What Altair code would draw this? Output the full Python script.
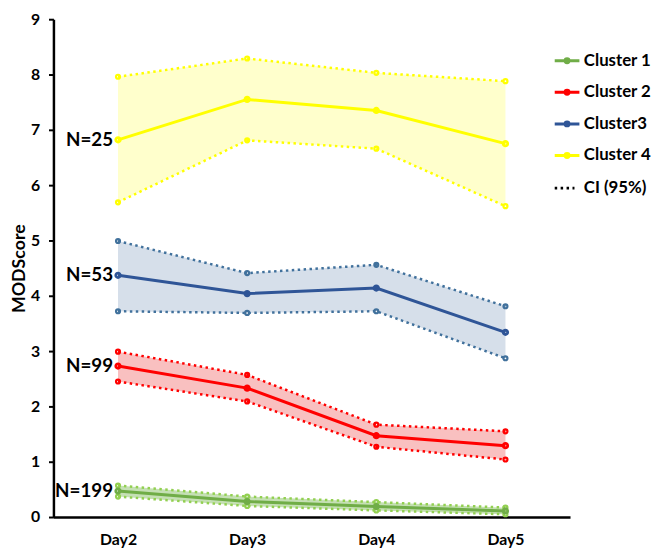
import altair as alt
import pandas as pd

days = ["Day2", "Day3", "Day4", "Day5"]
clusters = ["Cluster 1", "Cluster 2", "Cluster3", "Cluster 4"]
n_labels = ["N=199", "N=99", "N=53", "N=25"]
ci_label = "CI (95%)"

mean_c1 = [0.47, 0.28, 0.19, 0.11]
lo_c1 = [0.37, 0.20, 0.12, 0.05]
hi_c1 = [0.57, 0.37, 0.27, 0.17]

mean_c2 = [2.73, 2.33, 1.47, 1.29]
lo_c2 = [2.45, 2.09, 1.27, 1.04]
hi_c2 = [2.99, 2.57, 1.67, 1.55]

mean_c3 = [4.37, 4.04, 4.14, 3.34]
lo_c3 = [3.72, 3.69, 3.72, 2.87]
hi_c3 = [4.99, 4.41, 4.56, 3.81]

mean_c4 = [6.82, 7.55, 7.35, 6.75]
lo_c4 = [5.69, 6.81, 6.66, 5.62]
hi_c4 = [7.96, 8.29, 8.03, 7.88]

main_colors = ["#70AD47", "#FF0000", "#2F5597", "#FFFF00"]
ci_colors = ["#92D050", "#FF0000", "#41719C", "#FFFF00"]
band_colors = ["#C5E0B4", "#F9C0C0", "#D6DFEA", "#FFFFCC"]

means = [mean_c1, mean_c2, mean_c3, mean_c4]
los = [lo_c1, lo_c2, lo_c3, lo_c4]
his = [hi_c1, hi_c2, hi_c3, hi_c4]

band_keys = [c + " band" for c in clusters]
ci_keys = [c + " CI" for c in clusters]

rows, ci_rows, lab_rows = [], [], []
for ci, c in enumerate(clusters):
    for di, d in enumerate(days):
        rows.append({"cluster": c, "band": band_keys[ci], "day": d, "mean": means[ci][di],
                     "lo": los[ci][di], "hi": his[ci][di]})
        ci_rows.append({"cikey": ci_keys[ci], "day": d, "series": c + " hi",
                        "value": his[ci][di], "ci": ci_label})
        ci_rows.append({"cikey": ci_keys[ci], "day": d, "series": c + " lo",
                        "value": los[ci][di], "ci": ci_label})
    lab_rows.append({"cluster": c, "day": days[0], "mean": means[ci][0], "label": n_labels[ci]})

df = pd.DataFrame(rows)
ci_df = pd.DataFrame(ci_rows)
lab_df = pd.DataFrame(lab_rows)

FONT = "Lato"

x_enc = alt.X("day:N", sort=days, scale=alt.Scale(type="point", padding=0.5),
              axis=alt.Axis(title=None, labelAngle=0, ticks=False, labelFont=FONT,
                            labelFontSize=16, labelFontWeight="bold", labelColor="black",
                            labelPadding=15, domainColor="black", domainWidth=2.5))
y_scale = alt.Scale(domain=[0, 9], nice=False, zero=True)
y_axis = alt.Axis(title="MODScore", values=list(range(10)), format="d", grid=False, tickSize=5,
                  tickColor="black", tickWidth=2, domainColor="black", domainWidth=2.5,
                  labelFont=FONT, labelFontSize=16, labelFontWeight="bold",
                  labelColor="black", labelPadding=9, titleFont=FONT, titleFontSize=18,
                  titleFontWeight="bold", titleColor="black", titlePadding=2)

band = alt.Chart(df).mark_area(opacity=1).encode(
    x=x_enc,
    y=alt.Y("lo:Q", scale=y_scale, axis=y_axis),
    y2="hi:Q",
    fill=alt.Fill("band:N", scale=alt.Scale(domain=band_keys, range=band_colors), legend=None),
)

stroke_ci = alt.Stroke("cikey:N", scale=alt.Scale(domain=ci_keys, range=ci_colors), legend=None)

ci_lines = alt.Chart(ci_df).mark_line(strokeWidth=2.5).encode(
    x=alt.X("day:N", sort=days),
    y=alt.Y("value:Q", scale=y_scale),
    stroke=stroke_ci,
    detail="series:N",
    strokeDash=alt.StrokeDash(
        "ci:N", scale=alt.Scale(domain=[ci_label], range=[[2.5, 3.5]]),
        legend=alt.Legend(title=None, orient="none", legendX=506, legendY=157, padding=0,
                          labelFont=FONT, labelFontSize=17, labelFontWeight="bold",
                          labelColor="black", symbolType="M-1,0H0.6", symbolSize=625,
                          symbolStrokeWidth=3, symbolStrokeColor="black", labelOffset=3),
    ),
)
ci_pts = alt.Chart(ci_df).mark_point(filled=False, shape="circle", size=5, strokeWidth=4,
                                     opacity=1).encode(
    x=alt.X("day:N", sort=days),
    y=alt.Y("value:Q", scale=y_scale),
    stroke=stroke_ci,
)

legend_path = ("M-1,0H1M0.16,0A0.16,0.16,0,1,1,-0.16,0A0.16,0.16,0,1,1,0.16,0"
               "M0.06,0A0.06,0.06,0,1,1,-0.06,0A0.06,0.06,0,1,1,0.06,0")
color_enc = alt.Color(
    "cluster:N",
    scale=alt.Scale(domain=clusters, range=main_colors),
    legend=alt.Legend(
        title=None, orient="none", legendX=506, legendY=28, padding=0,
        labelFont=FONT, labelFontSize=17, labelFontWeight="bold", labelColor="black",
        symbolType=legend_path, symbolSize=625, symbolStrokeWidth=3, labelOffset=3,
        rowPadding=10, symbolOpacity=1,
    ),
)

main_line = alt.Chart(df).mark_line(strokeWidth=3).encode(
    x=alt.X("day:N", sort=days),
    y=alt.Y("mean:Q", scale=y_scale),
    color=color_enc,
)
main_pts = alt.Chart(df).mark_point(filled=False, shape="circle", size=8, strokeWidth=4.5,
                                    opacity=1).encode(
    x=alt.X("day:N", sort=days),
    y=alt.Y("mean:Q", scale=y_scale),
    color=color_enc,
)

labels = alt.Chart(lab_df).mark_text(align="right", baseline="middle", dx=-5, font=FONT,
                                     fontSize=19, fontWeight="bold", color="black").encode(
    x=alt.X("day:N", sort=days),
    y=alt.Y("mean:Q", scale=y_scale),
    text="label:N",
)

chart = alt.layer(band, ci_lines, ci_pts, main_line, main_pts, labels).properties(
    width=523, height=504, autosize="none",
    padding={"left": 46, "top": 8, "right": 84, "bottom": 28},
).configure_view(stroke=None)

chart.save("out.html", embed_options={"renderer": "svg", "actions": False})
